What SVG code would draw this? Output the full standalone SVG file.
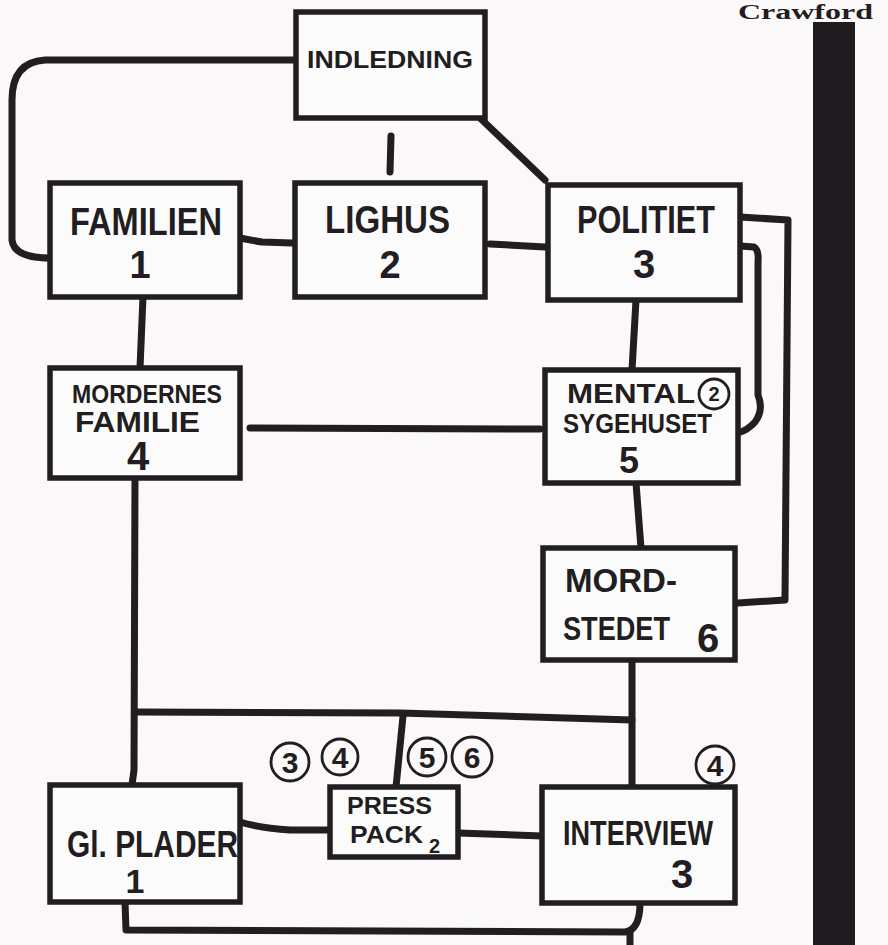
<svg xmlns="http://www.w3.org/2000/svg" width="888" height="945" viewBox="0 0 888 945">
<style>
.box{fill:#fcfbfb;stroke:#211d20;stroke-width:5.5}
.t{font-family:"Liberation Sans",Arial,sans-serif;fill:#211d20;font-weight:bold}
.c{fill:none;stroke:#211d20;stroke-width:7;stroke-linecap:round;stroke-linejoin:round}
.n{fill:none;stroke:#211d20;stroke-width:2.8}
</style>
<rect x="0" y="0" width="888" height="945" fill="#faf8f8"/>
<text x="738" y="19" font-family="Liberation Serif,serif" font-weight="bold" font-size="20" fill="#211d20" textLength="135" lengthAdjust="spacingAndGlyphs">Crawford</text>
<rect x="813" y="22" width="42" height="923" fill="#1f1b1e"/>
<g id="connectors">
<path class="c" d="M296,60 L45,60 Q12,62 12,100 L12,240 Q14,258 50,258"/>
<path class="c" d="M391,136 L390,172"/>
<path class="c" d="M480,118 L545,180"/>
<path class="c" d="M240,238 Q250,240 262,242 L292,243"/>
<path class="c" d="M490,244 L545,247"/>
<path class="c" d="M143,297 L140,368"/>
<path class="c" d="M250,428 L540,429"/>
<path class="c" d="M636,300 L632,370"/>
<path class="c" d="M740,217 L788,220 L785,600 L738,603"/>
<path class="c" d="M740,246 L754,247 Q759,250 758,262 L758,395 Q764,410 755,422 Q748,430 738,433"/>
<path class="c" d="M636,483 L641,548"/>
<path class="c" d="M632,660 L632,787"/>
<path class="c" d="M135,478 L134,770 L132,785"/>
<path class="c" d="M135,712 L400,713 L632,720"/>
<path class="c" d="M403,716 L396,787"/>
<path class="c" d="M240,822 Q260,828 290,830 L330,830"/>
<path class="c" d="M458,833 L542,836"/>
<path class="c" d="M125,902 L126,930 L625,932 Q640,930 640,903"/>
<path class="c" d="M630,932 L630,945"/>
</g>
<g id="indledning">
<rect class="box" x="296" y="12" width="189" height="106"/>
<text class="t" x="307" y="68" font-size="24" textLength="166" lengthAdjust="spacingAndGlyphs">INDLEDNING</text>
</g>
<g id="familien">
<rect class="box" x="50" y="183" width="190" height="114"/>
<text class="t" x="70" y="235" font-size="38" textLength="152" lengthAdjust="spacingAndGlyphs">FAMILIEN</text>
<text class="t" x="140" y="278" font-size="38" text-anchor="middle">1</text>
</g>
<g id="lighus">
<rect class="box" x="295" y="183" width="190" height="114"/>
<text class="t" x="325" y="233" font-size="38" textLength="125" lengthAdjust="spacingAndGlyphs">LIGHUS</text>
<text class="t" x="390" y="278" font-size="38" text-anchor="middle">2</text>
</g>
<g id="politiet">
<rect class="box" x="548" y="185" width="192" height="115"/>
<text class="t" x="577" y="233" font-size="38" textLength="138" lengthAdjust="spacingAndGlyphs">POLITIET</text>
<text class="t" x="644" y="278" font-size="40" text-anchor="middle">3</text>
</g>
<g id="mordernes">
<rect class="box" x="50" y="368" width="190" height="110"/>
<text class="t" x="72" y="403" font-size="25" textLength="150" lengthAdjust="spacingAndGlyphs">MORDERNES</text>
<text class="t" x="75" y="432" font-size="30" textLength="125" lengthAdjust="spacingAndGlyphs">FAMILIE</text>
<text class="t" x="138" y="470" font-size="40" text-anchor="middle">4</text>
</g>
<g id="mental">
<rect class="box" x="545" y="370" width="193" height="113"/>
<text class="t" x="567" y="403" font-size="28" textLength="128" lengthAdjust="spacingAndGlyphs">MENTAL</text>
<circle class="n" cx="714" cy="394" r="15"/>
<text class="t" x="714" y="401" font-size="20" text-anchor="middle">2</text>
<text class="t" x="563" y="433" font-size="28" textLength="149" lengthAdjust="spacingAndGlyphs">SYGEHUSET</text>
<text class="t" x="629" y="473" font-size="36" text-anchor="middle">5</text>
</g>
<g id="mordstedet">
<rect class="box" x="543" y="548" width="192" height="112"/>
<text class="t" x="565" y="592" font-size="33" textLength="112" lengthAdjust="spacingAndGlyphs">MORD-</text>
<text class="t" x="563" y="640" font-size="33" textLength="107" lengthAdjust="spacingAndGlyphs">STEDET</text>
<text class="t" x="708" y="652" font-size="40" text-anchor="middle">6</text>
</g>
<g id="ghplader">
<rect class="box" x="50" y="785" width="190" height="117"/>
<text class="t" x="67" y="857" font-size="36" textLength="171" lengthAdjust="spacingAndGlyphs">Gl. PLADER</text>
<text class="t" x="135" y="893" font-size="34" text-anchor="middle">1</text>
</g>
<g id="presspack">
<rect class="box" x="330" y="787" width="128" height="70"/>
<text class="t" x="347" y="814" font-size="24" textLength="85" lengthAdjust="spacingAndGlyphs">PRESS</text>
<text class="t" x="350" y="843" font-size="24" textLength="73" lengthAdjust="spacingAndGlyphs">PACK</text>
<text class="t" x="429" y="853" font-size="20">2</text>
</g>
<g id="interview">
<rect class="box" x="542" y="787" width="193" height="116"/>
<text class="t" x="563" y="845" font-size="35" textLength="150" lengthAdjust="spacingAndGlyphs">INTERVIEW</text>
<text class="t" x="682" y="888" font-size="40" text-anchor="middle">3</text>
</g>
<g id="markers">
<circle class="n" cx="290" cy="762" r="19"/>
<text class="t" x="290" y="773" font-size="30" text-anchor="middle">3</text>
<circle class="n" cx="340" cy="757" r="18"/>
<text class="t" x="340" y="768" font-size="30" text-anchor="middle">4</text>
<circle class="n" cx="427" cy="757" r="19"/>
<text class="t" x="427" y="768" font-size="30" text-anchor="middle">5</text>
<circle class="n" cx="472" cy="757" r="20"/>
<text class="t" x="472" y="768" font-size="30" text-anchor="middle">6</text>
<circle class="n" cx="715" cy="765" r="19"/>
<text class="t" x="715" y="776" font-size="30" text-anchor="middle">4</text>
</g>
</svg>
